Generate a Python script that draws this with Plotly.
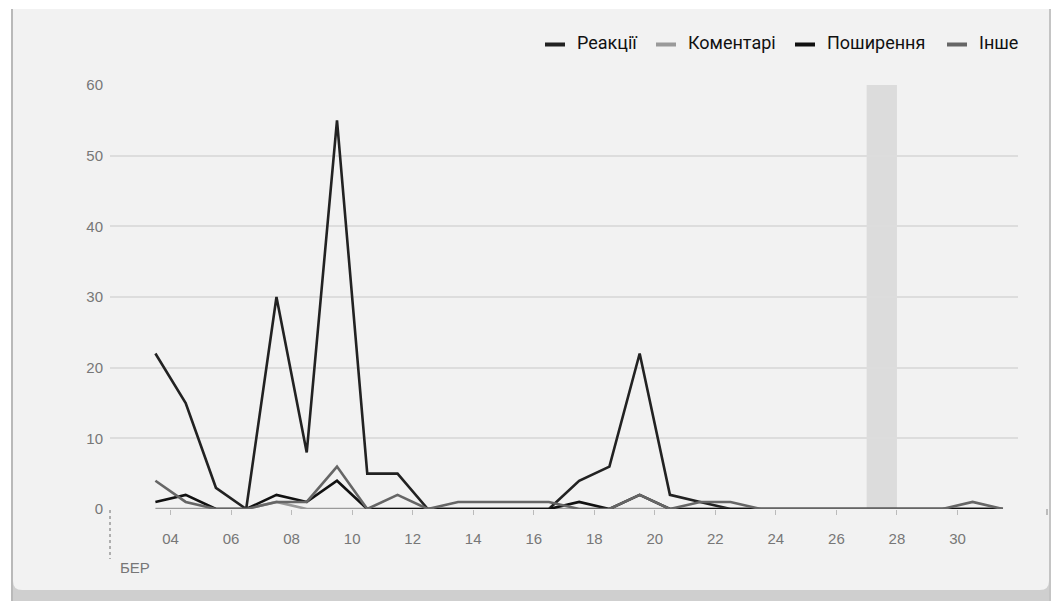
#!/usr/bin/env python
# -*- coding: utf-8 -*-
"""
Daily engagement chart (March): reactions, comments, shares, other.
"""

import plotly.graph_objects as go

# Data
dates = ["2024-03-%02d 12:00" % d for d in range(3, 32)]

reactions = [22, 15, 3, 0, 30, 8, 55, 5, 5, 0, 0, 0, 0, 0, 4, 6, 22, 2, 1, 0,
             0, 0, 0, 0, 0, 0, 0, 0, 0]
comments = [0, 0, 0, 0, 1, 0, 0, 0, 0, 0, 0, 0, 0, 0, 0, 0, 0, 0, 0, 0,
            0, 0, 0, 0, 0, 0, 0, 0, 0]
shares = [1, 2, 0, 0, 2, 1, 4, 0, 0, 0, 0, 0, 0, 0, 1, 0, 2, 0, 0, 0,
          0, 0, 0, 0, 0, 0, 0, 0, 0]
other = [4, 1, 0, 0, 1, 1, 6, 0, 2, 0, 1, 1, 1, 1, 0, 0, 2, 0, 1, 1,
         0, 0, 0, 0, 0, 0, 0, 1, 0]

series_names = ["Реакції", "Коментарі", "Поширення", "Інше"]
series_values = [reactions, comments, shares, other]
series_colors = ["#222222", "#9a9a9a", "#111111", "#666666"]

x_tickvals = ["2024-03-%02d" % d for d in range(4, 31, 2)]
x_ticktext = ["%02d" % d for d in range(4, 31, 2)]
y_tickvals = [0, 10, 20, 30, 40, 50, 60]
month_label = "БЕР"
highlight_day = ("2024-03-27", "2024-03-28")

# Geometry helpers: page pixel -> paper (page body has an 8px margin)
W, H = 1059, 601
OFF = 8


def px(x):
    return (x - OFF) / W


def py(y):
    return 1 - (y - OFF) / H


fig = go.Figure()

for name, vals, color in zip(series_names, series_values, series_colors):
    fig.add_trace(
        go.Scatter(
            x=dates, y=vals, name=name, mode="lines",
            line=dict(color=color, width=2.6),
            cliponaxis=False, showlegend=False,
        )
    )

tick_font = dict(family="Liberation Sans, Arial, sans-serif", size=15, color="#777777")

shapes = [
    # grey backing strip + card
    dict(type="rect", xref="paper", yref="paper", x0=px(11), x1=px(1070),
         y0=py(612), y1=py(9), fillcolor="#cfcfcf", line=dict(width=0), layer="below"),
    dict(type="rect", xref="paper", yref="paper", x0=px(1051), x1=px(1070),
         y0=py(590), y1=py(9), fillcolor="#f2f2f2", line=dict(width=0), layer="below"),
    dict(type="path", xref="paper", yref="paper",
         path="M %f,%f L %f,%f L %f,%f Q %f,%f %f,%f L %f,%f Q %f,%f %f,%f Z" % (
             px(13), py(9), px(1049), py(9), px(1049), py(581),
             px(1049), py(590), px(1040), py(590), px(22), py(590),
             px(13), py(590), px(13), py(581)),
         fillcolor="#f2f2f2", line=dict(width=0), layer="below"),
    dict(type="line", xref="paper", yref="paper", x0=px(12), x1=px(12),
         y0=py(9), y1=py(612), line=dict(color="#b9b9b9", width=2), layer="below"),
    dict(type="line", xref="paper", yref="paper", x0=px(1050), x1=px(1050),
         y0=py(9), y1=py(612), line=dict(color="#c4c4c4", width=2), layer="below"),
    # highlighted day
    dict(type="rect", xref="x", yref="y", x0=highlight_day[0], x1=highlight_day[1],
         y0=0, y1=60, fillcolor="#dcdcdc", line=dict(width=0), layer="below"),
    # month separator
    dict(type="line", xref="paper", yref="paper", x0=px(110), x1=px(110),
         y0=py(510), y1=py(559), line=dict(color="#999999", width=1.5, dash="dot")),
    # small marker at the right end of the axis
    dict(type="line", xref="paper", yref="paper", x0=px(1047), x1=px(1047),
         y0=py(509), y1=py(515), line=dict(color="#aaaaaa", width=1.5)),
]

annotations = [
    dict(text=month_label, xref="paper", yref="paper", x=px(118), y=py(567),
         xanchor="left", yanchor="middle", showarrow=False, font=tick_font),
]

# legend drawn by hand (short thick dashes)
legend_x = [545, 656, 795, 947]
for name, color, lx in zip(series_names, series_colors, legend_x):
    shapes.append(dict(type="line", xref="paper", yref="paper", x0=px(lx), x1=px(lx + 20),
                       y0=py(44.5), y1=py(44.5), line=dict(color=color, width=4)))
    annotations.append(dict(text=name, xref="paper", yref="paper", x=px(lx + 30), y=py(43),
                            xanchor="left", yanchor="middle", showarrow=False,
                            font=dict(family="Roboto, Liberation Sans, sans-serif",
                                      size=18, color="#111111")))

fig.update_layout(
    width=W, height=H,
    margin=dict(l=0, r=0, t=0, b=0),
    paper_bgcolor="#ffffff",
    plot_bgcolor="rgba(0,0,0,0)",
    showlegend=False,
    shapes=shapes,
    annotations=annotations,
    xaxis=dict(
        domain=[px(110), px(1018)],
        range=["2024-03-02", "2024-04-01"],
        tickvals=x_tickvals, ticktext=x_ticktext,
        ticks="outside", ticklen=5, tickcolor="#bbbbbb", tickwidth=1,
        ticklabelstandoff=11,
        showgrid=False, zeroline=False, showline=False,
        tickfont=tick_font, automargin=False,
    ),
    yaxis=dict(
        domain=[py(509), py(85)],
        range=[0, 60],
        tickvals=y_tickvals,
        showgrid=True, gridcolor="#dddddd", gridwidth=1.5,
        zeroline=False, showline=False,
        ticks="", ticklabelstandoff=6,
        tickfont=tick_font, automargin=False,
    ),
)

fig.write_html("out.html")
